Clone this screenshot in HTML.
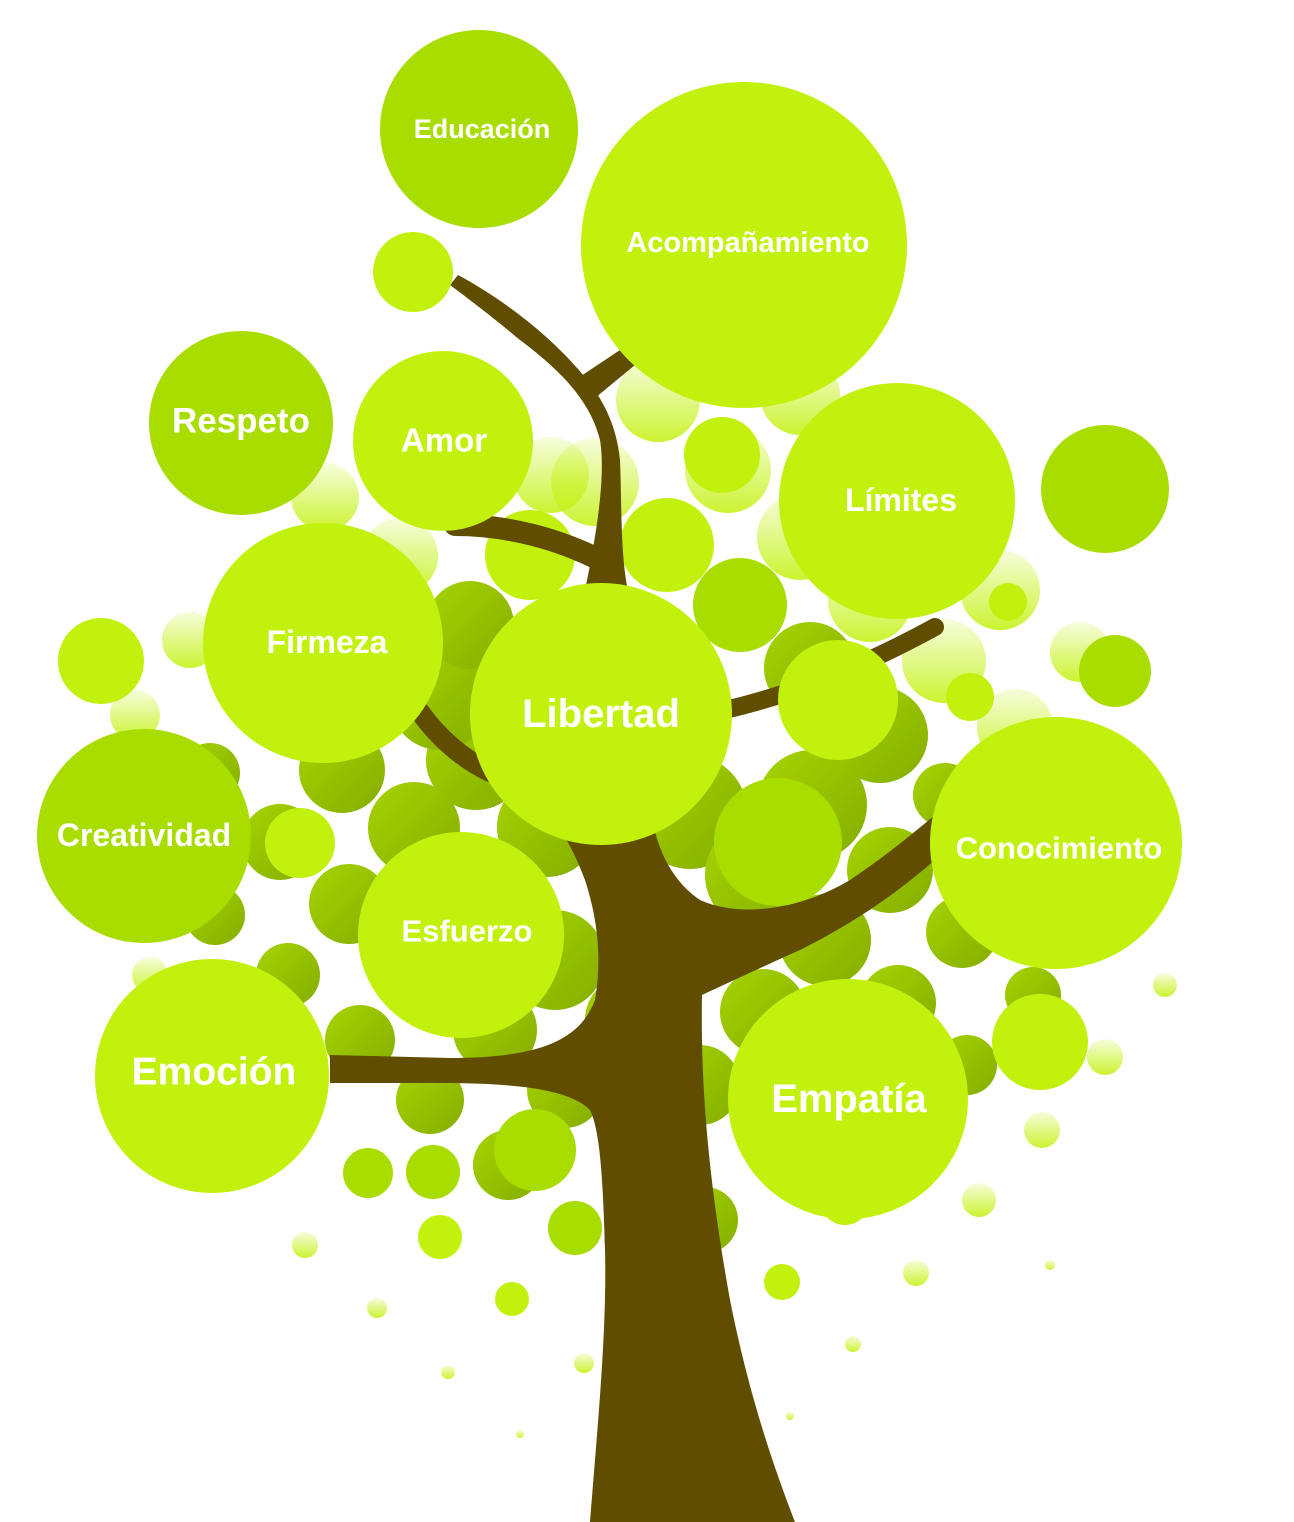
<!DOCTYPE html>
<html><head><meta charset="utf-8"><style>
html,body{margin:0;padding:0;background:#fff}
svg{display:block}
text{font-family:"Liberation Sans",sans-serif;font-weight:bold;fill:#fff;text-anchor:middle;dominant-baseline:central}
</style></head><body>
<svg width="1294" height="1522" viewBox="0 0 1294 1522" xmlns="http://www.w3.org/2000/svg">
<defs>
<linearGradient id="dk" x1="0" y1="0" x2="1" y2="1"><stop offset="0" stop-color="#a6d400"/><stop offset="1" stop-color="#84ad00"/></linearGradient>
<linearGradient id="fd" x1="0" y1="1" x2="0" y2="0"><stop offset="0" stop-color="#c6f21a" stop-opacity=".9"/><stop offset="1" stop-color="#c6f21a" stop-opacity=".15"/></linearGradient>
</defs>
<!-- faded background bubbles -->
<g fill="url(#fd)">
<circle cx="658" cy="400" r="42"/><circle cx="800" cy="395" r="40"/><circle cx="595" cy="482" r="44"/>
<circle cx="728" cy="470" r="43"/><circle cx="551" cy="475" r="38"/><circle cx="800" cy="537" r="43"/>
<circle cx="870" cy="600" r="42"/><circle cx="944" cy="661" r="42"/><circle cx="1000" cy="590" r="40"/>
<circle cx="1080" cy="652" r="30"/><circle cx="1015" cy="727" r="38"/><circle cx="325" cy="497" r="34"/>
<circle cx="400" cy="556" r="38"/><circle cx="190" cy="640" r="28"/><circle cx="135" cy="715" r="25"/>
<circle cx="1105" cy="1057" r="18"/><circle cx="1042" cy="1130" r="18"/><circle cx="979" cy="1200" r="17"/>
<circle cx="916" cy="1273" r="13"/><circle cx="853" cy="1344" r="8"/><circle cx="1165" cy="985" r="12"/>
<circle cx="305" cy="1245" r="13"/><circle cx="377" cy="1308" r="10"/><circle cx="448" cy="1372" r="7"/>
<circle cx="584" cy="1363" r="10"/><circle cx="520" cy="1434" r="4"/><circle cx="790" cy="1416" r="4"/>
<circle cx="1050" cy="1265" r="5"/><circle cx="150" cy="975" r="18"/>
</g>
<!-- mid/dark background bubbles -->
<g fill="url(#dk)">
<circle cx="476" cy="760" r="50"/><circle cx="414" cy="828" r="46"/><circle cx="342" cy="770" r="43"/>
<circle cx="349" cy="904" r="40"/><circle cx="280" cy="842" r="38"/><circle cx="547" cy="827" r="50"/>
<circle cx="690" cy="812" r="57"/><circle cx="812" cy="805" r="55"/><circle cx="760" cy="875" r="55"/>
<circle cx="890" cy="870" r="43"/><circle cx="825" cy="940" r="46"/><circle cx="763" cy="1012" r="43"/>
<circle cx="898" cy="1003" r="38"/><circle cx="555" cy="960" r="50"/><circle cx="495" cy="1030" r="42"/>
<circle cx="360" cy="1040" r="35"/><circle cx="430" cy="1100" r="34"/><circle cx="565" cy="1090" r="38"/>
<circle cx="630" cy="1020" r="45"/><circle cx="700" cy="1085" r="40"/><circle cx="880" cy="735" r="48"/>
<circle cx="440" cy="700" r="50"/><circle cx="470" cy="625" r="44"/><circle cx="810" cy="668" r="46"/>
<circle cx="508" cy="1165" r="35"/><circle cx="962" cy="932" r="36"/><circle cx="945" cy="795" r="32"/>
<circle cx="288" cy="975" r="32"/><circle cx="215" cy="915" r="30"/><circle cx="210" cy="773" r="30"/>
<circle cx="967" cy="1065" r="30"/><circle cx="1033" cy="995" r="28"/><circle cx="705" cy="1220" r="33"/>
</g>
<g fill="#a9dd00">
<circle cx="479" cy="129" r="99"/><circle cx="241" cy="423" r="92"/><circle cx="1105" cy="489" r="64"/>
<circle cx="144" cy="836" r="107"/><circle cx="1115" cy="671" r="36"/><circle cx="740" cy="605" r="47"/>
<circle cx="778" cy="842" r="64"/><circle cx="535" cy="1150" r="41"/><circle cx="433" cy="1172" r="27"/>
<circle cx="575" cy="1228" r="27"/><circle cx="368" cy="1173" r="25"/>
</g>
<g fill="#c3f10e">
<circle cx="722" cy="455" r="38"/><circle cx="667" cy="545" r="47"/><circle cx="530" cy="555" r="45"/>
<circle cx="1008" cy="602" r="19"/><circle cx="970" cy="697" r="24"/><circle cx="440" cy="1237" r="22"/>
<circle cx="512" cy="1299" r="17"/><circle cx="782" cy="1282" r="18"/><circle cx="845" cy="1200" r="25"/>
<circle cx="300" cy="843" r="35"/>
</g>
<!-- trunk -->
<g fill="#614d00">
<path d="M590 1522 C598 1420 607 1330 605 1250 C603 1180 600 1130 590 1110 C570 1090 520 1083 440 1083 L330 1083 L330 1055 L450 1058 C540 1058 580 1040 595 1000 C602 960 598 920 585 880 C570 840 550 810 530 790 L650 790 C650 840 670 880 700 900 C740 918 800 910 850 880 C880 860 905 840 935 815 L935 860 C900 890 860 920 800 950 C760 968 730 982 702 995 C700 1100 712 1200 730 1300 C750 1400 775 1470 795 1522 Z"/>
<path d="M583 600 C600 520 605 470 600 440 C590 400 560 370 520 340 C490 315 470 300 450 285 L458 275 C490 292 530 320 560 350 C590 380 615 410 620 460 C622 510 620 560 630 600 Z"/>
<path d="M575 380 L620 350 L635 365 L595 398 Z"/>
</g>
<g fill="none" stroke="#614d00" stroke-linecap="round">
<path d="M600 560 C560 540 510 525 455 525" stroke-width="22"/>
<path d="M420 712 C440 740 465 760 490 772" stroke-width="20"/>
<path d="M725 710 C790 695 860 668 935 627" stroke-width="18"/>
</g>
<!-- labelled bubbles -->
<g fill="#c3f10e">
<circle cx="744" cy="245" r="163"/><circle cx="413" cy="272" r="40"/><circle cx="443" cy="441" r="90"/>
<circle cx="897" cy="501" r="118"/><circle cx="323" cy="643" r="120"/><circle cx="601" cy="714" r="131"/>
<circle cx="838" cy="700" r="60"/><circle cx="101" cy="661" r="43"/><circle cx="1056" cy="843" r="126"/>
<circle cx="461" cy="935" r="103"/><circle cx="212" cy="1076" r="117"/><circle cx="848" cy="1099" r="120"/>
<circle cx="1040" cy="1042" r="48"/>
</g>
<text x="482" y="129" font-size="27">Educación</text>
<text x="748" y="243" font-size="29">Acompañamiento</text>
<text x="241" y="421" font-size="35">Respeto</text>
<text x="444" y="440" font-size="33">Amor</text>
<text x="901" y="500" font-size="32">Límites</text>
<text x="327" y="642" font-size="32">Firmeza</text>
<text x="601" y="714" font-size="40">Libertad</text>
<text x="144" y="835" font-size="32">Creatividad</text>
<text x="1059" y="848" font-size="31">Conocimiento</text>
<text x="467" y="931" font-size="31">Esfuerzo</text>
<text x="214" y="1072" font-size="39">Emoción</text>
<text x="849" y="1099" font-size="40">Empatía</text>
</svg>
</body></html>
